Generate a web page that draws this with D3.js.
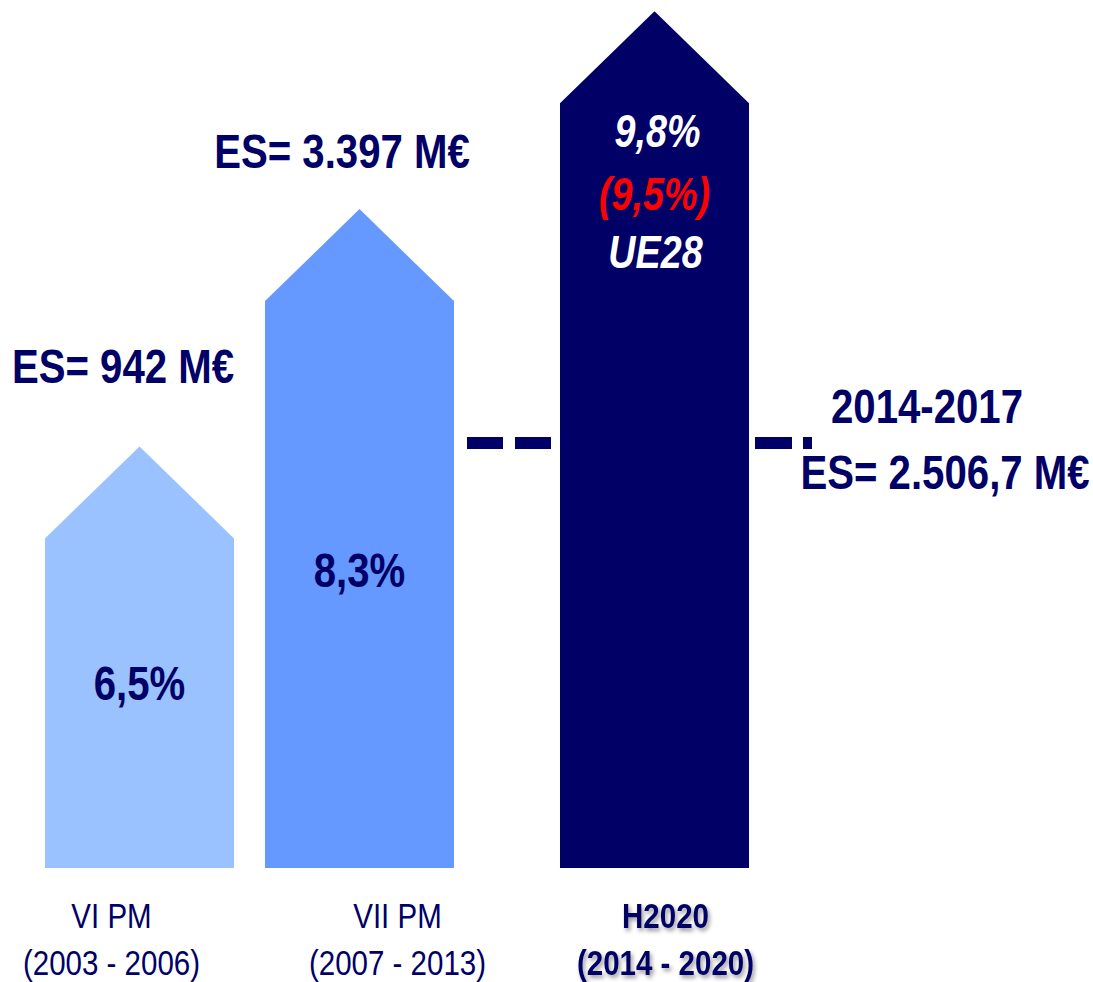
<!DOCTYPE html>
<html>
<head>
<meta charset="utf-8">
<script src="https://cdn.jsdelivr.net/npm/d3@7"></script>
<style>
  body { margin: 0; background: #fff; }
  text { font-family: "Liberation Sans", Arial, sans-serif; }
</style>
</head>
<body>
<div id="vis-container"></div>
<script>
// data
const programmes = ["VI PM", "VII PM", "H2020"];
const periods = ["(2003 - 2006)", "(2007 - 2013)", "(2014 - 2020)"];
const startYears = [2003, 2007, 2014];
const shares = [6.5, 8.3, 9.8];
const shareLabels = ["6,5%", "8,3%", "9,8%"];
const budgetLabels = ["ES= 942 M€", "ES= 3.397 M€", "ES= 2.506,7 M€"];
const h2020Extra = ["(9,5%)", "UE28"];
const h2020Partial = "2014-2017";

const colors = ["#99c2ff", "#6699ff", "#000066"];
const navy = "#000066";

let width = 1093;
let height = 982;
// no narrow font installed, so squeeze the normal one
const narrow = 0.82;

let svg = d3.select("#vis-container").append("svg").attr("width", width).attr("height", height);

// scales
const xScale = d3.scaleLinear().domain(startYears).range([45, 265, 560]);
const barWidth = 189;
const yScale = d3.scaleLinear().domain([4, 10]).range([868, 77]);
const head = 92;

const data = programmes.map((p, i) => ({ name: p, period: periods[i], year: startYears[i], share: shares[i], label: shareLabels[i], es: budgetLabels[i] }));

function addText(g, x, y, txt, size, opts) {
    opts = opts || {};
    return g.append("text")
        .attr("transform", "translate(" + x + "," + y + ") scale(" + narrow + ",1)")
        .attr("text-anchor", "middle")
        .attr("font-size", size)
        .attr("font-weight", opts.weight || "bold")
        .attr("font-style", opts.style || "normal")
        .attr("fill", opts.fill || navy)
        .text(txt);
}

// arrow-shaped bars
svg.append("g").selectAll("path")
    .data(data)
    .enter().append("path")
    .attr("d", d => {
        let x0 = xScale(d.year), x1 = x0 + barWidth, y0 = yScale(4), y1 = yScale(d.share);
        return "M" + x0 + "," + y0 + "L" + x0 + "," + y1 + "L" + (x0 + barWidth / 2) + "," + (y1 - head) +
            "L" + x1 + "," + y1 + "L" + x1 + "," + y0 + "Z";
    })
    .attr("fill", (d, i) => colors[i]);

// dashes
const dashY = 437;
const dashes = [[467, 36], [515, 36], [755, 37], [803, 9]];
svg.append("g").selectAll("rect")
    .data(dashes)
    .enter().append("rect")
    .attr("x", d => d[0]).attr("y", dashY)
    .attr("width", d => d[1]).attr("height", 12)
    .attr("fill", navy);

// share labels inside bars
const shareY = [700, 587, 147];
data.forEach((d, i) => {
    let cx = xScale(d.year) + barWidth / 2;
    if (i < 2) addText(svg, cx, shareY[i], d.label, 49);
    else addText(svg, cx + 3, shareY[i], d.label, 46, { style: "italic", fill: "#fff" });
});

let cx3 = xScale(2014) + barWidth / 2;
addText(svg, cx3, 210, h2020Extra[0], 46, { style: "italic", fill: "#ff0000" });
addText(svg, cx3 + 1, 268, h2020Extra[1], 46, { style: "italic", fill: "#fff" });

// budget labels
const esPos = [[123, 383], [342, 168], [945, 489]];
data.forEach((d, i) => addText(svg, esPos[i][0], esPos[i][1], d.es, 49));
addText(svg, 927, 423, h2020Partial, 49);

// category labels
const labelShift = [-28, 38, 11];
data.forEach((d, i) => {
    let cx = xScale(d.year) + barWidth / 2 + labelShift[i];
    let opts = { weight: i === 2 ? "bold" : "normal" };
    let g = svg.append("g");
    if (i === 2) g.style("filter", "drop-shadow(2px 3px 2px rgba(0,0,0,0.4))");
    addText(g, cx, 928, d.name, 36, opts);
    addText(g, cx, 975, d.period, 36, opts);
});
</script>
</body>
</html>
